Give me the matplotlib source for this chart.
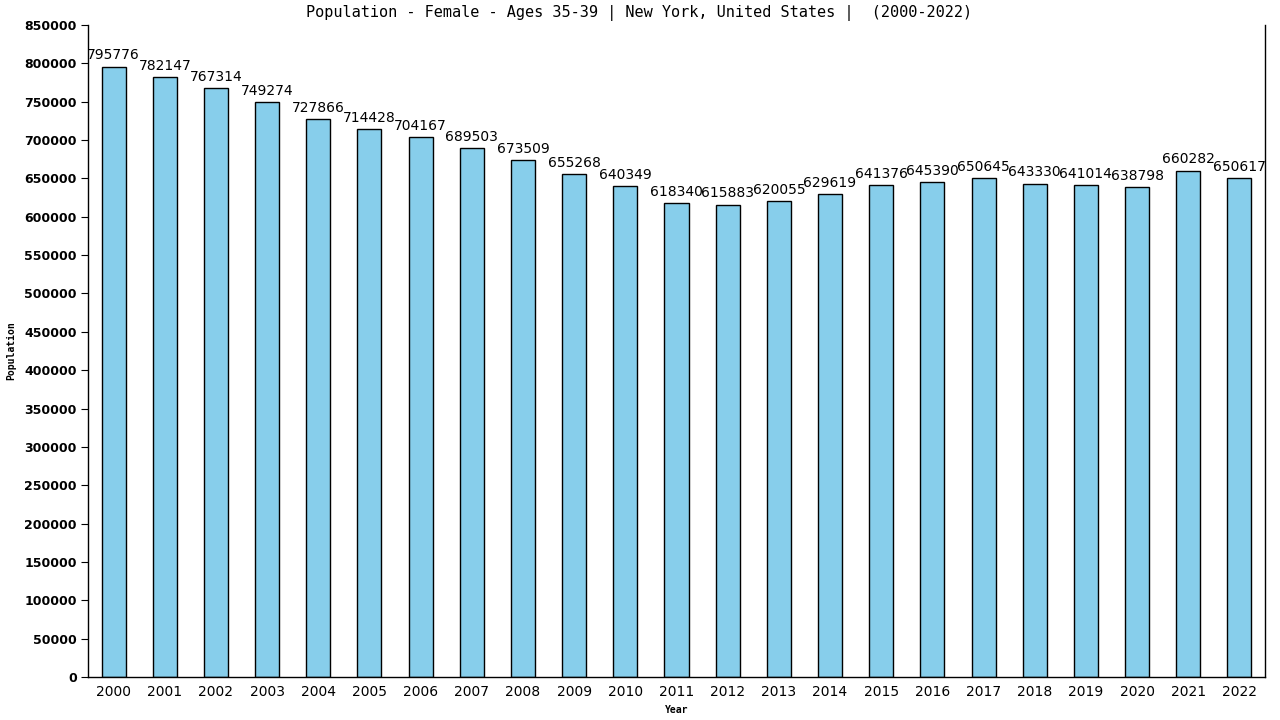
import matplotlib
matplotlib.use("Agg")
import matplotlib.pyplot as plt

years = [str(y) for y in range(2000, 2023)]
population = [795776, 782147, 767314, 749274, 727866, 714428, 704167, 689503,
              673509, 655268, 640349, 618340, 615883, 620055, 629619, 641376,
              645390, 650645, 643330, 641014, 638798, 660282, 650617]
y_ticks = list(range(0, 850001, 50000))

title = "Population - Female - Ages 35-39 | New York, United States |  (2000-2022)"

fig = plt.figure(figsize=(12.8, 7.2), dpi=100)
ax = fig.add_axes([88 / 1280, 1 - 677 / 720, (1265 - 88) / 1280, (677 - 25) / 720])

x = list(range(len(years)))
ax.bar(x, population, width=0.47, color="#87CEEB", edgecolor="black", linewidth=1)

for xi, v in zip(x, population):
    ax.annotate(str(v), (xi, v), xytext=(0, 3), textcoords="offset points",
                ha="center", va="bottom", fontsize=10, family="DejaVu Sans")

ax.set_xlim(-0.5, len(years) - 0.5)
ax.set_ylim(0, 850000)
ax.set_yticks(y_ticks)
ax.set_yticklabels([str(t) for t in y_ticks], fontsize=9, fontweight="bold")
ax.set_xticks(x)
ax.set_xticklabels(years, fontsize=10)
ax.tick_params(axis="x", length=0, pad=6)
ax.tick_params(axis="y", length=5, pad=3)

ax.spines["top"].set_visible(False)
for s in ["left", "bottom", "right"]:
    ax.spines[s].set_linewidth(1)

ax.set_xlabel("Year", fontsize=7, fontweight="bold", family="DejaVu Sans Mono", labelpad=4)
ax.set_ylabel("Population", fontsize=7, fontweight="bold", family="DejaVu Sans Mono", labelpad=6)
fig.text(639 / 1280, 1 - 13 / 720, title, ha="center", va="center",
         fontsize=11, family="DejaVu Sans Mono")

fig.savefig("out.png", dpi=100)
